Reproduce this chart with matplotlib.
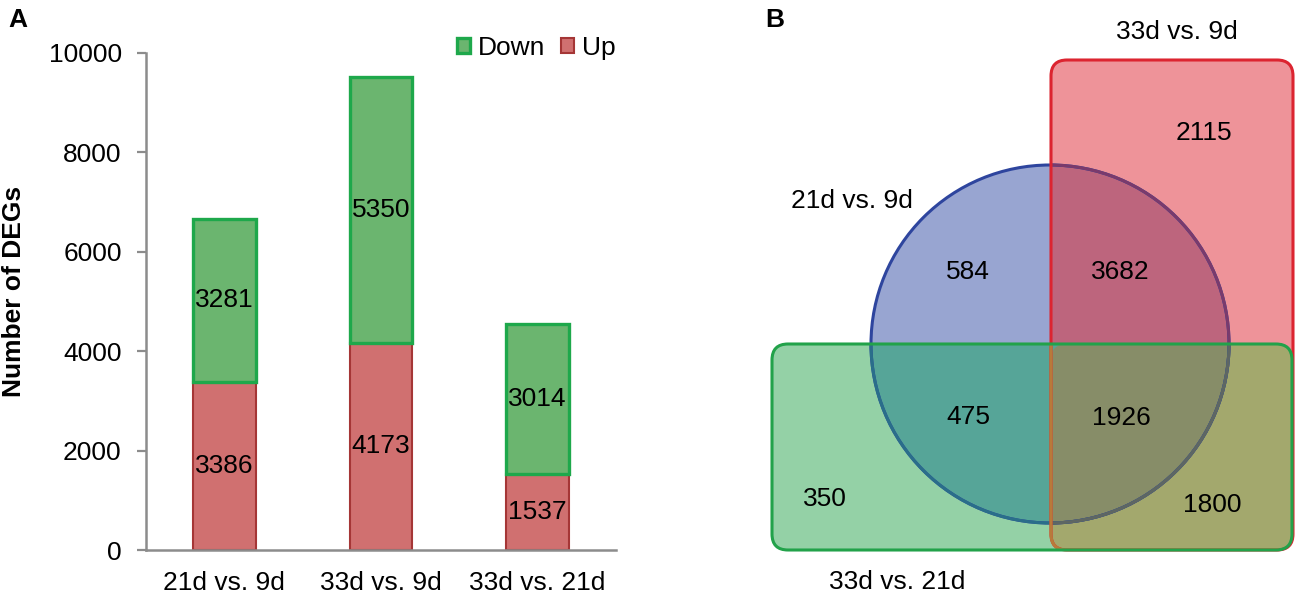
import matplotlib
matplotlib.use('Agg')
from matplotlib import pyplot as plt
from matplotlib.patches import Circle, FancyBboxPatch

plt.rcParams['font.family'] = ['Liberation Sans', 'DejaVu Sans']

# Panel A data
categories = ['21d vs. 9d', '33d vs. 9d', '33d vs. 21d']
up_counts = [3386, 4173, 1537]
down_counts = [3281, 5350, 3014]
y_ticks = [0, 2000, 4000, 6000, 8000, 10000]

# Panel B data (Venn region counts)
set_names = ['21d vs. 9d', '33d vs. 9d', '33d vs. 21d']
region_names = ['A', 'B', 'C', 'AB', 'AC', 'BC', 'ABC']
region_counts = [584, 2115, 350, 3682, 475, 1800, 1926]

FS = 19
W, H = 1295, 594
fig = plt.figure(figsize=(W / 100, H / 100), dpi=100)

# ---------- panel A: stacked bars ----------
ax = fig.add_axes([146 / W, 1 - 550 / H, 470 / W, 497 / H])
x = list(range(len(categories)))
up_bars = ax.bar(x, up_counts, width=0.4, color='#d07070', edgecolor='#a53636',
                 linewidth=1.5, label='Up', zorder=2)
down_bars = ax.bar(x, down_counts, width=0.4, bottom=up_counts, color='#6bb56f',
                   edgecolor='#1ea84b', linewidth=2.4, label='Down', zorder=3)

for i in x:
    ax.text(i, up_counts[i] / 2, str(up_counts[i]), ha='center', va='center',
            fontsize=FS, zorder=4)
    ax.text(i, up_counts[i] + down_counts[i] / 2, str(down_counts[i]),
            ha='center', va='center', fontsize=FS, zorder=4)

ax.set_xlim(-0.5, 2.5)
ax.set_ylim(0, 10000)
ax.set_yticks(y_ticks)
ax.set_xticks(x)
ax.set_xticklabels(categories)
for s in ['top', 'right']:
    ax.spines[s].set_visible(False)
for s in ['left', 'bottom']:
    ax.spines[s].set_color('#8c8c8c')
    ax.spines[s].set_linewidth(1.8)
ax.tick_params(axis='y', length=6.5, width=1.6, color='#8c8c8c', labelsize=FS, pad=11)
ax.tick_params(axis='x', length=0, labelsize=FS, pad=15)
ax.set_ylabel('Number of DEGs', fontsize=FS, fontweight='bold')
ax.yaxis.set_label_coords(-0.255, 0.52)

ax.legend(handles=[down_bars, up_bars], labels=['Down', 'Up'], ncol=2,
          loc='center right', bbox_to_anchor=(616 / W, 1 - 48 / H),
          bbox_transform=fig.transFigure, frameon=False, fontsize=FS,
          handlelength=0.5, handleheight=0.5, handletextpad=0.3,
          columnspacing=0.6, borderpad=0, borderaxespad=0)

# ---------- panel B: Venn diagram ----------
vx = fig.add_axes([760 / W, 0, 535 / W, 1])
vx.set_xlim(760, 1295)
vx.set_ylim(594, 0)
vx.axis('off')

circ_c, circ_r = (1050, 344), 179
red_xy, red_wh = (1051, 60), (242, 490)
grn_xy, grn_wh = (772, 344), (520, 206)
both_xy, both_wh = (1051, 344), (241, 206)
rnd = 'round,pad=0,rounding_size=16'


def circ(**kw):
    return vx.add_patch(Circle(circ_c, circ_r, **kw))


def box(xy, wh, **kw):
    return vx.add_patch(FancyBboxPatch(xy, wh[0], wh[1], boxstyle=rnd, **kw))


# clip shapes (invisible)
red_clip = box(red_xy, red_wh, facecolor='none', edgecolor='none')
grn_clip = box(grn_xy, grn_wh, facecolor='none', edgecolor='none')
both_clip = box(both_xy, both_wh, facecolor='none', edgecolor='none')

# region fills
box(grn_xy, grn_wh, facecolor='#94d1a6', edgecolor='none', zorder=1)
box(red_xy, red_wh, facecolor='#ee9399', edgecolor='none', zorder=1)
box(red_xy, red_wh, facecolor='#a3a86d', edgecolor='none', zorder=1.1).set_clip_path(grn_clip)
circ(facecolor='#98a5d1', edgecolor='none', zorder=1.2)
circ(facecolor='#bd657d', edgecolor='none', zorder=1.3).set_clip_path(red_clip)
circ(facecolor='#56a598', edgecolor='none', zorder=1.3).set_clip_path(grn_clip)
circ(facecolor='#878d68', edgecolor='none', zorder=1.4).set_clip_path(both_clip)

# outlines
lw = 2.2
circ(facecolor='none', edgecolor='#2e459e', linewidth=lw, zorder=2)
circ(facecolor='none', edgecolor='#7a3a6c', linewidth=lw, zorder=2.1).set_clip_path(red_clip)
circ(facecolor='none', edgecolor='#2a6e8a', linewidth=lw, zorder=2.1).set_clip_path(grn_clip)
circ(facecolor='none', edgecolor='#5e6663', linewidth=lw, zorder=2.2).set_clip_path(both_clip)
box(red_xy, red_wh, facecolor='none', edgecolor='#dc2430', linewidth=lw, zorder=2.3)
box(red_xy, red_wh, facecolor='none', edgecolor='#b87a3a', linewidth=lw,
    zorder=2.4).set_clip_path(grn_clip)
box(grn_xy, grn_wh, facecolor='none', edgecolor='#22a24a', linewidth=lw, zorder=2.5)

set_label_pos = [(852, 201), (1177, 32), (897, 582)]
for name, (tx, ty) in zip(set_names, set_label_pos):
    vx.text(tx, ty, name, ha='center', va='center', fontsize=FS, zorder=5)

region_pos = {'A': (968, 272), 'B': (1204, 133), 'C': (825, 499),
              'AB': (1120, 272), 'AC': (968, 417), 'BC': (1212, 505),
              'ABC': (1121, 418)}
for r, n in zip(region_names, region_counts):
    tx, ty = region_pos[r]
    vx.text(tx, ty, str(n), ha='center', va='center', fontsize=FS, zorder=5)

fig.text(8 / W, 1 - 20 / H, 'A', fontsize=FS, fontweight='bold', va='center')
fig.text(765 / W, 1 - 20 / H, 'B', fontsize=FS, fontweight='bold', va='center')

fig.savefig('out.png', dpi=100)
